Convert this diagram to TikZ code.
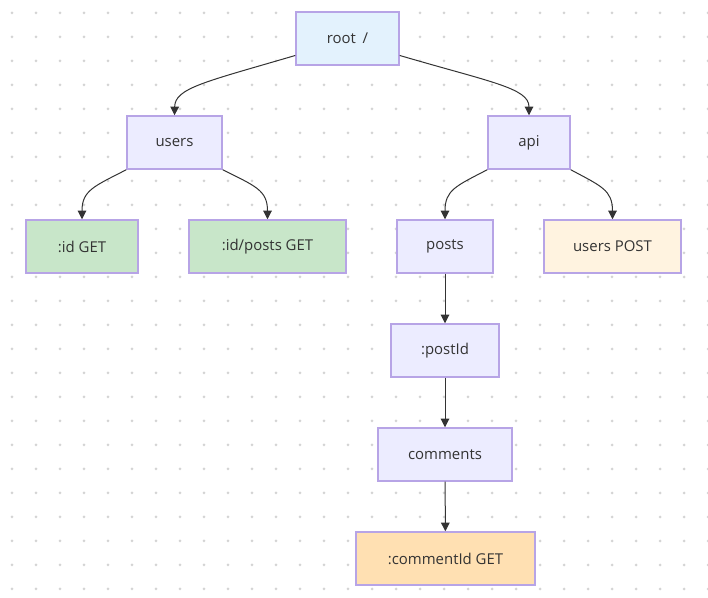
\documentclass[tikz,border=0pt]{standalone}
\usepackage{fontspec}
\setmainfont{Open Sans}
\usetikzlibrary{arrows.meta}

\definecolor{rootfill}{HTML}{E3F2FD}
\definecolor{segfill}{HTML}{ECECFF}
\definecolor{getfill}{HTML}{C8E6C9}
\definecolor{postfill}{HTML}{FFF3E0}
\definecolor{leaffill}{HTML}{FFE0B2}
\definecolor{segline}{HTML}{B7A4E6}
\definecolor{linkcol}{HTML}{333333}
\definecolor{dotcol}{HTML}{D4D4D4}

\begin{document}
\begin{tikzpicture}[
  x=0.75pt, y=-0.75pt,
  font=\fontsize{11.2pt}{13pt}\selectfont,
  route/.style={draw=segline, line width=1.1pt, fill=segfill, text=linkcol,
    minimum height=53*0.75pt, inner sep=0pt},
  link/.style={-{Triangle[length=6.5pt, width=6.5pt]}, line width=0.75pt, draw=linkcol}
]

\useasboundingbox (0,0) rectangle (708,598);

% dotted canvas
\foreach \gx in {12,36,...,708}
  \foreach \gy in {13,37,...,598}
    \fill[dotcol] (\gx,\gy) circle (1.5);

% route segments
\node[route, fill=rootfill, minimum width=103*0.75pt] (root) at (347.5,38.5) {root\hspace{0.45em}/};
\node[route, minimum width=95*0.75pt] (users) at (174.5,142.5) {users};
\node[route, minimum width=82*0.75pt] (api) at (529,142.5) {api};
\node[route, fill=getfill, minimum width=112*0.75pt] (userid) at (82,246.5) {:id GET};
\node[route, fill=getfill, minimum width=157*0.75pt] (userposts) at (267.5,246.5) {:id/posts GET};
\node[route, minimum width=96*0.75pt] (posts) at (445,246.5) {posts};
\node[route, fill=postfill, minimum width=137*0.75pt] (userpost) at (612.5,246.5) {users POST};
\node[route, minimum width=108*0.75pt] (postid) at (445,350.5) {:postId};
\node[route, minimum width=134*0.75pt] (comments) at (445,454.5) {comments};
\node[route, fill=leaffill, minimum width=179*0.75pt] (commentid) at (445.5,558.5) {:commentId GET};

% links
\draw[link] (root.198) .. controls (205,82) and (175,88) .. (users.north);
\draw[link] (root.-18) .. controls (490,82) and (529,88) .. (api.north);
\draw[link] (users.south west) .. controls (95,186) and (82,190) .. (userid.north);
\draw[link] (users.south east) .. controls (255,186) and (267.5,190) .. (userposts.north);
\draw[link] (api.south west) .. controls (456,186) and (445,190) .. (posts.north);
\draw[link] (api.south east) .. controls (601,186) and (612.5,190) .. (userpost.north);
\draw[link] (posts) -- (postid);
\draw[link] (postid) -- (comments);
\draw[link] (comments) -- (commentid);

\end{tikzpicture}
\end{document}
